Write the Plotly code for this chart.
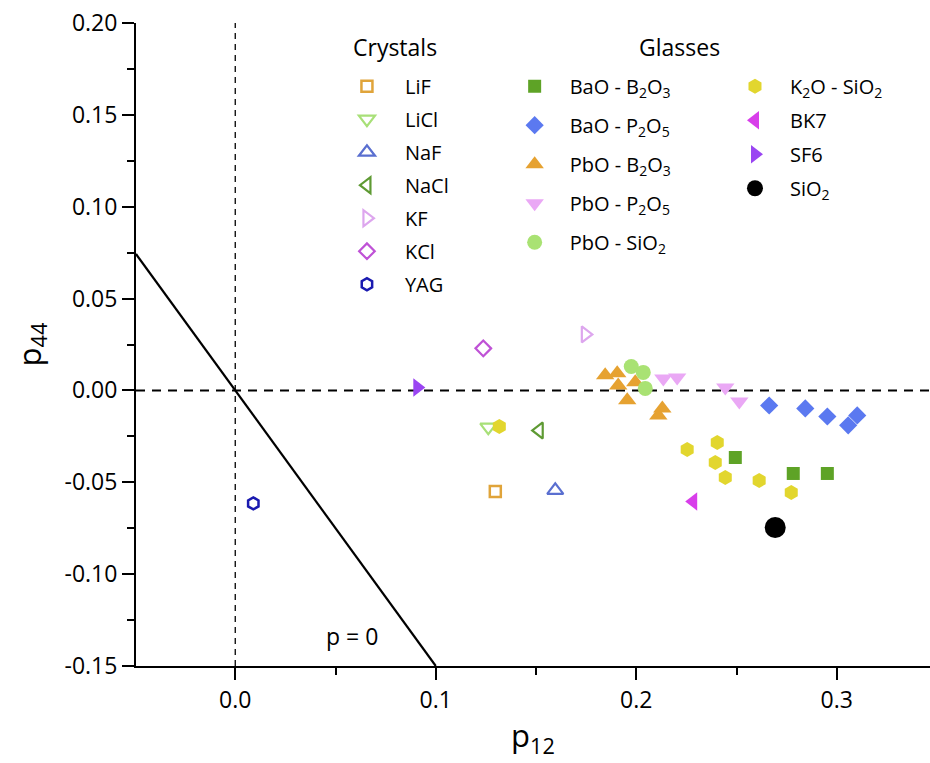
import plotly.graph_objects as go

FONT = "Open Sans"

# ---------------- data ----------------
# Crystals (open markers)
LiF_p12 = [0.1297];  LiF_p44 = [-0.0550]
LiCl_p12 = [0.1262]; LiCl_p44 = [-0.0200]
NaF_p12 = [0.1596];  NaF_p44 = [-0.0544]
NaCl_p12 = [0.1516]; NaCl_p44 = [-0.0218]
KF_p12 = [0.1746];   KF_p44 = [0.0305]
KCl_p12 = [0.1237];  KCl_p44 = [0.0229]
YAG_p12 = [0.0090];  YAG_p44 = [-0.0615]

# Glasses (filled markers)
BaO_B2O3_p12 = [0.2494, 0.2783, 0.2953]
BaO_B2O3_p44 = [-0.0365, -0.0452, -0.0452]
BaO_P2O5_p12 = [0.2663, 0.2843, 0.2953, 0.3102, 0.3057]
BaO_P2O5_p44 = [-0.0082, -0.0098, -0.0142, -0.0136, -0.0190]
PbO_B2O3_p12 = [0.1845, 0.1905, 0.1910, 0.1995, 0.1955, 0.2130, 0.2110]
PbO_B2O3_p44 = [0.0082, 0.0093, 0.0027, 0.0044, -0.0054, -0.0098, -0.0136]
PbO_P2O5_p12 = [0.2135, 0.2204, 0.2444, 0.2514]
PbO_P2O5_p44 = [0.0065, 0.0071, 0.0016, -0.0060]
PbO_SiO2_p12 = [0.1975, 0.2035, 0.2045]
PbO_SiO2_p44 = [0.0130, 0.0098, 0.0011]
K2O_SiO2_p12 = [0.1317, 0.2254, 0.2404, 0.2394, 0.2444, 0.2613, 0.2773]
K2O_SiO2_p44 = [-0.0196, -0.0321, -0.0283, -0.0392, -0.0474, -0.0490, -0.0555]
BK7_p12 = [0.2284];  BK7_p44 = [-0.0604]
SF6_p12 = [0.0908];  SF6_p44 = [0.0016]
SiO2_p12 = [0.2693]; SiO2_p44 = [-0.0746]

# p = 0 line (p44 = -1.5 p12)
zero_line_p12 = [-0.0495, 0.1]
zero_line_p44 = [0.07425, -0.15]

y_tickvals = [-0.15, -0.10, -0.05, 0.00, 0.05, 0.10, 0.15, 0.20]
y_ticktext = ["-0.15", "-0.10", "-0.05", "0.00", "0.05", "0.10", "0.15", "0.20"]
x_tickvals = [0.0, 0.1, 0.2, 0.3]
x_ticktext = ["0.0", "0.1", "0.2", "0.3"]

fig = go.Figure()

def add(name, xs, ys, symbol, color, size, legend, open_=False, lw=2.2):
    if open_:
        marker = dict(symbol=symbol + "-open", size=size, color=color,
                      line=dict(color=color, width=lw))
    else:
        marker = dict(symbol=symbol, size=size, color=color, line=dict(width=0))
    fig.add_trace(go.Scatter(x=xs, y=ys, mode="markers", name=name,
                             marker=marker, legend=legend, legendgroup=name))

# solid line first (behind markers)
fig.add_trace(go.Scatter(x=zero_line_p12, y=zero_line_p44, mode="lines",
                         line=dict(color="black", width=2.2), showlegend=False,
                         hoverinfo="skip"))

add("LiF", LiF_p12, LiF_p44, "square", "#E0A43A", 11, "legend", True, 2.5)
add("LiCl", LiCl_p12, LiCl_p44, "triangle-down", "#A8E078", 14, "legend", True)
add("NaF", NaF_p12, NaF_p44, "triangle-up", "#5A6FD0", 14, "legend", True)
add("NaCl", NaCl_p12, NaCl_p44, "triangle-left", "#5E9A33", 14, "legend", True)
add("KF", KF_p12, KF_p44, "triangle-right", "#DDA6EE", 14, "legend", True)
add("KCl", KCl_p12, KCl_p44, "diamond", "#BF52D6", 12, "legend", True)
add("YAG", YAG_p12, YAG_p44, "hexagon", "#1A1AB0", 12, "legend", True, 2.5)

add("BaO - B<sub>2</sub>O<sub>3</sub>", BaO_B2O3_p12, BaO_B2O3_p44, "square", "#5EA326", 13, "legend2")
add("BaO - P<sub>2</sub>O<sub>5</sub>", BaO_P2O5_p12, BaO_P2O5_p44, "diamond", "#5B79F0", 14, "legend2")
add("PbO - B<sub>2</sub>O<sub>3</sub>", PbO_B2O3_p12, PbO_B2O3_p44, "triangle-up", "#E6A231", 16, "legend2")
add("PbO - P<sub>2</sub>O<sub>5</sub>", PbO_P2O5_p12, PbO_P2O5_p44, "triangle-down", "#EAA8F5", 16, "legend2")
add("PbO - SiO<sub>2</sub>", PbO_SiO2_p12, PbO_SiO2_p44, "circle", "#A9E273", 15, "legend2")

add("K<sub>2</sub>O - SiO<sub>2</sub>", K2O_SiO2_p12, K2O_SiO2_p44, "hexagon", "#E2D62E", 15, "legend3")
add("BK7", BK7_p12, BK7_p44, "triangle-left", "#D83EEA", 16, "legend3")
add("SF6", SF6_p12, SF6_p44, "triangle-right", "#9A45F2", 16, "legend3")
add("SiO<sub>2</sub>", SiO2_p12, SiO2_p44, "circle", "#000000", 21, "legend3")

# dashed reference lines
fig.add_hline(y=0, line=dict(color="black", width=2, dash="9px,7px"), layer="below")
fig.add_vline(x=0, line=dict(color="black", width=1.3, dash="6px,5px"), layer="below")

fig.add_annotation(x=0.0584, y=-0.1334, text="p = 0", showarrow=False,
                   xanchor="center", yanchor="middle",
                   font=dict(size=23, color="black", family=FONT))
fig.add_annotation(xref="paper", yref="paper", x=0.326, y=0.9627, text="Crystals",
                   xanchor="center", yanchor="middle",
                   showarrow=False, font=dict(size=23, color="black", family=FONT))
fig.add_annotation(xref="paper", yref="paper", x=0.685, y=0.9627, text="Glasses",
                   xanchor="center", yanchor="middle",
                   showarrow=False, font=dict(size=23, color="black", family=FONT))

leg_common = dict(bgcolor="rgba(0,0,0,0)", borderwidth=0, xanchor="left", yanchor="top",
                  font=dict(size=20, color="black", family=FONT), itemclick=False)

fig.update_layout(
    width=930, height=763,
    margin=dict(l=136, r=0, t=23, b=97),
    paper_bgcolor="white", plot_bgcolor="white",
    font=dict(family=FONT, color="black"),
    legend=dict(x=0.243, y=0.932, itemwidth=66, tracegroupgap=4, **leg_common),
    legend2=dict(x=0.458, y=0.932, itemwidth=60, tracegroupgap=10, **leg_common),
    legend3=dict(x=0.7355, y=0.932, itemwidth=60, tracegroupgap=5, **leg_common),
    xaxis=dict(range=[-0.0495, 0.3465], showgrid=False, zeroline=False,
               showline=True, linecolor="black", linewidth=2,
               tickmode="array", tickvals=x_tickvals, ticktext=x_ticktext,
               ticks="outside", ticklen=12, tickwidth=2, tickcolor="black",
               minor=dict(dtick=0.05, tick0=0, ticks="outside", ticklen=7,
                          tickwidth=2, tickcolor="black", showgrid=False),
               tickfont=dict(size=23, family=FONT),
               title=dict(text="p<sub>12</sub>", font=dict(size=31, family=FONT), standoff=12)),
    yaxis=dict(range=[-0.15, 0.20], showgrid=False, zeroline=False,
               showline=True, linecolor="black", linewidth=2,
               tickmode="array", tickvals=y_tickvals, ticktext=y_ticktext,
               ticks="outside", ticklen=12, tickwidth=2, tickcolor="black",
               minor=dict(dtick=0.025, tick0=0, ticks="outside", ticklen=7,
                          tickwidth=2, tickcolor="black", showgrid=False),
               tickfont=dict(size=23, family=FONT),
               title=dict(text="p<sub>44</sub>", font=dict(size=31, family=FONT), standoff=14)),
)

fig.write_html("out.html")
